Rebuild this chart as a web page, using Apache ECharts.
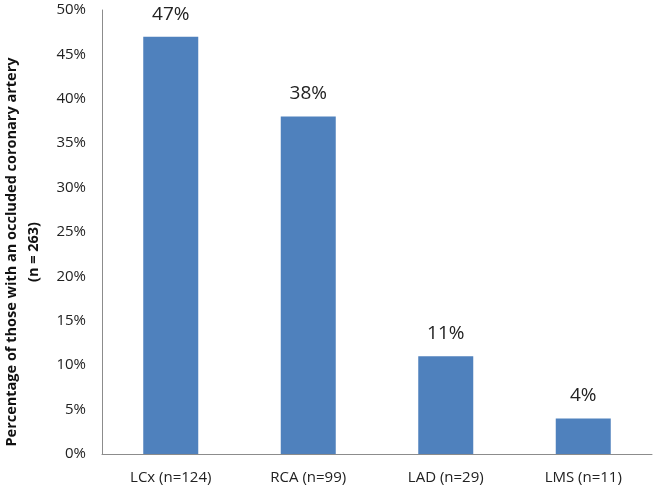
<!DOCTYPE html>
<html><head><meta charset="utf-8">
<script src="https://cdn.jsdelivr.net/npm/echarts@6/dist/echarts.min.js"></script>
<style>html,body{margin:0;padding:0;background:#fff}#c{width:656px;height:495px}</style>
</head><body><div id="c"></div>
<script>
const categories = ['LCx (n=124)', 'RCA (n=99)', 'LAD (n=29)', 'LMS (n=11)'];
const values = [47, 38, 11, 4];
const yTicks = [0, 5, 10, 15, 20, 25, 30, 35, 40, 45, 50];
const yTitle = 'Percentage of those with an occluded coronary artery\n(n = 263)';

const chart = echarts.init(document.getElementById('c'));
chart.setOption({
  animation: false,
  grid: { left: 102, right: 4, top: 10, bottom: 41, containLabel: false, outerBoundsMode: 'none' },
  xAxis: {
    type: 'category', data: categories,
    axisLine: { lineStyle: { color: '#8c8c8c', width: 1 } },
    axisTick: { show: false },
    axisLabel: { color: '#222', fontSize: 15, fontFamily: 'Open Sans', margin: 16 }
  },
  yAxis: {
    type: 'value', min: yTicks[0], max: yTicks[yTicks.length - 1], interval: 5,
    name: yTitle, nameLocation: 'middle', nameGap: 57, nameRotate: 90,
    nameTextStyle: { color: '#111', fontSize: 14.5, fontWeight: 'bold', fontFamily: 'Open Sans', lineHeight: 22, align: 'center', padding: [0, 40, 0, 0] },
    axisLine: { show: true, lineStyle: { color: '#8c8c8c', width: 1 } },
    axisTick: { show: false },
    splitLine: { show: false },
    axisLabel: { color: '#222', fontSize: 15, fontFamily: 'Open Sans', margin: 16, formatter: '{value}%' }
  },
  series: [{
    type: 'bar', data: values, barWidth: '40%',
    itemStyle: { color: '#4F81BD' },
    label: { show: true, position: 'top', distance: 13, formatter: '{c}%', color: '#222', fontSize: 19, fontFamily: 'Open Sans' }
  }]
});
</script></body></html>
